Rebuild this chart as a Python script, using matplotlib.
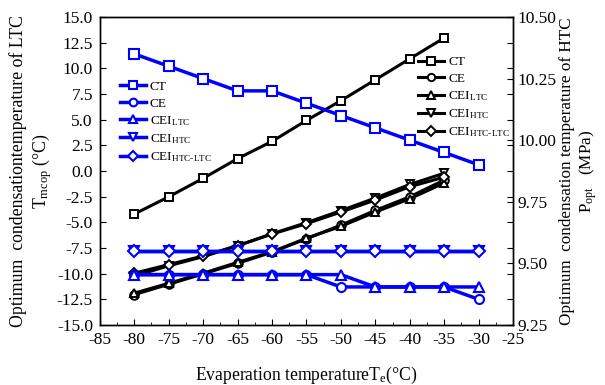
import matplotlib
matplotlib.use("Agg")
import matplotlib.pyplot as plt
from matplotlib.ticker import MultipleLocator, FormatStrFormatter

plt.rcParams['font.family'] = ['Liberation Serif', 'DejaVu Serif']
plt.rcParams['mathtext.fontset'] = 'custom'
plt.rcParams['mathtext.rm'] = 'Liberation Serif'
plt.rcParams['mathtext.it'] = 'Liberation Serif:italic'
plt.rcParams['mathtext.default'] = 'regular'

# ---- data ----
te_left = [-80, -75, -70, -65, -60, -55, -50, -45, -40, -35, -30]
t_ct = [11.4, 10.2, 9.0, 7.8, 7.8, 6.6, 5.4, 4.2, 3.0, 1.8, 0.6]
t_ce = [-10.1, -10.1, -10.1, -10.1, -10.1, -10.1, -11.3, -11.3, -11.3, -11.3, -12.5]
t_cei_ltc = [-10.1, -10.1, -10.1, -10.1, -10.1, -10.1, -10.1, -11.3, -11.3, -11.3, -11.3]
t_cei_htc = [-7.8, -7.8, -7.8, -7.8, -7.8, -7.8, -7.8, -7.8, -7.8, -7.8, -7.8]
t_cei_htcltc = [-7.8, -7.8, -7.8, -7.8, -7.8, -7.8, -7.8, -7.8, -7.8, -7.8, -7.8]

te_right = [-80, -75, -70, -65, -60, -55, -50, -45, -40, -35]
p_ct = [9.70, 9.77, 9.845, 9.925, 9.995, 10.08, 10.16, 10.245, 10.33, 10.415]
p_ce = [9.373, 9.415, 9.457, 9.50, 9.545, 9.60, 9.655, 9.715, 9.77, 9.838]
p_cei_ltc = [9.379, 9.419, 9.46, 9.504, 9.547, 9.602, 9.650, 9.708, 9.762, 9.826]
p_cei_htc = [9.448, 9.49, 9.527, 9.571, 9.62, 9.665, 9.714, 9.765, 9.82, 9.866]
p_cei_htcltc = [9.46, 9.495, 9.53, 9.572, 9.619, 9.661, 9.708, 9.757, 9.811, 9.85]

labels = ['CT', 'CE', r'CEI$_{\mathrm{LTC}}$', r'CEI$_{\mathrm{HTC}}$', 'CEI$_{\\mathrm{HTC\u2010LTC}}$']
markers = ['s', 'o', '^', 'v', 'D']

fig = plt.figure(figsize=(6.05, 3.85), dpi=100)
ax = fig.add_axes([0.165, 0.156, 0.683, 0.800])
ax2 = ax.twinx()

BLUE = '#0000ff'
left_series = [t_ct, t_ce, t_cei_ltc, t_cei_htc, t_cei_htcltc]
right_series = [p_ct, p_ce, p_cei_ltc, p_cei_htc, p_cei_htcltc]

for ys, m, lab in zip(left_series, markers, labels):
    ms = 5.8 if m == 'D' else 6.5
    ax.plot(te_left, ys, color=BLUE, lw=2.5, marker=m, ms=ms, mfc='white',
            mec=BLUE, mew=1.5, label=lab)

for ys, m, lab in zip(right_series, markers, labels):
    ms = 5.5 if m == 'D' else 6.2
    ax2.plot(te_right, ys, color='black', lw=2.2, marker=m, ms=ms, mfc='white',
             mec='black', mew=1.4, label=lab)

ax.set_zorder(ax2.get_zorder() + 1)
ax.patch.set_visible(False)

ax.set_xlim(-85, -25)
ax.set_ylim(-15, 15)
ax2.set_ylim(9.25, 10.5)
ax.set_xticks(range(-85, -24, 5))
ax.set_xticklabels([str(v) for v in range(-85, -24, 5)])
ax.xaxis.set_minor_locator(MultipleLocator(2.5))
ax.yaxis.set_major_locator(MultipleLocator(2.5))
ax2.yaxis.set_major_locator(MultipleLocator(0.25))
ax.yaxis.set_major_formatter(FormatStrFormatter('%.1f'))
ax2.yaxis.set_major_formatter(FormatStrFormatter('%.2f'))

ax.tick_params(axis='both', which='both', direction='in', labelsize=12.5)
ax.tick_params(axis='x', which='major', length=4, pad=5)
ax.tick_params(axis='x', which='minor', length=2)
ax.tick_params(axis='y', which='major', length=4, right=True, pad=5)
ax2.tick_params(axis='y', direction='in', length=4, labelsize=12.5, pad=3)
for a in (ax, ax2):
    for s in a.spines.values():
        s.set_linewidth(1.0)

ax.set_xlabel(r'Evaperation temperatureT$_{e}$(°C)', fontsize=12.7, labelpad=12)
ax.set_ylabel('Optimum  condensationtemperature of LTC\n' + r'T$_{mcop}$ (°C)',
              fontsize=12.8, labelpad=2, linespacing=1.2)
ax2.set_ylabel('Optimum  condensation temperature of HTC\n' + r'P$_{opt}$   (MPa)',
               fontsize=12.3, labelpad=2, rotation=90, linespacing=1.15)

leg_kw = dict(frameon=False, fontsize=9.5, handlelength=2.0, handletextpad=0.3,
              labelspacing=0.33, borderaxespad=0, markerscale=0.85)
leg1 = ax.legend(loc='upper left', bbox_to_anchor=(0.035, 0.81), **leg_kw)
leg2 = ax2.legend(loc='upper left', bbox_to_anchor=(0.757, 0.89), **leg_kw)

fig.savefig('out.png', dpi=100)
